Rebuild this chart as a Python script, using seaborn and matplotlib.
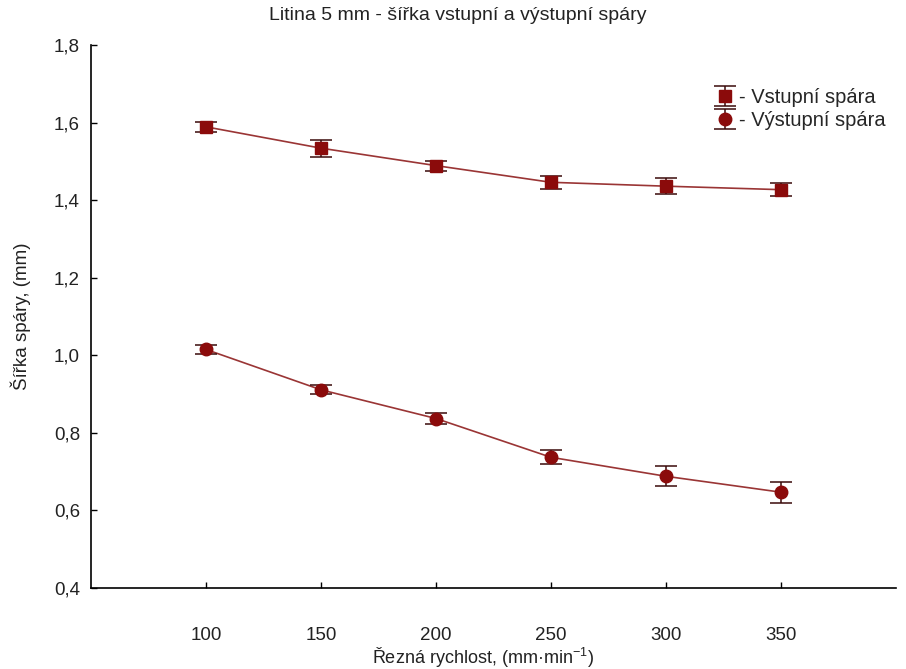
import matplotlib
matplotlib.use("Agg")
import matplotlib.pyplot as plt
import seaborn as sns
import pandas as pd

# Cutting speed (mm/min)
speed = [100, 150, 200, 250, 300, 350]
# Entry kerf width: mean and half-width of the error bar (mm)
vstup_mean = [1.589, 1.534, 1.489, 1.446, 1.436, 1.427]
vstup_err = [0.013, 0.022, 0.013, 0.017, 0.021, 0.017]
# Exit kerf width: mean and half-width of the error bar (mm)
vystup_mean = [1.015, 0.911, 0.837, 0.737, 0.688, 0.647]
vystup_err = [0.012, 0.012, 0.014, 0.018, 0.026, 0.027]

series_names = ["Vstupní spára", "Výstupní spára"]
y_ticks = [0.4, 0.6, 0.8, 1.0, 1.2, 1.4, 1.6, 1.8]
x_ticks = [100, 150, 200, 250, 300, 350]

df = pd.DataFrame({
    "speed": speed * 2,
    "width": vstup_mean + vystup_mean,
    "err": vstup_err + vystup_err,
    "series": [series_names[0]] * len(speed) + [series_names[1]] * len(speed),
})

sns.set_theme(style="white")
plt.rcParams["font.family"] = ["Liberation Sans", "DejaVu Sans"]
plt.rcParams["mathtext.fontset"] = "custom"
plt.rcParams["mathtext.rm"] = "Liberation Sans"
plt.rcParams["mathtext.it"] = "Liberation Sans"

fig = plt.figure(figsize=(9.06, 6.69), dpi=100)
ax = fig.add_axes([91 / 906, 81 / 669, 805 / 906, 543 / 669])

line_col = "#9a3535"
mark_col = "#8b0b0b"

sns.lineplot(data=df, x="speed", y="width", hue="series",
             palette=[line_col, line_col], ax=ax, legend=False,
             linewidth=1.2, estimator=None, errorbar=None)

handles = []
for name, marker in zip(series_names, ["s", "o"]):
    sub = df[df["series"] == name]
    h = ax.errorbar(sub["speed"], sub["width"], yerr=sub["err"], fmt=marker,
                    color=mark_col, ecolor="#3a0a0a", elinewidth=1.1,
                    capsize=8, capthick=1.1, markersize=9,
                    markeredgecolor=mark_col, label="- " + name, zorder=3)
    handles.append(h)

ax.set_xlim(50, 400)
ax.set_ylim(0.4, 1.8)
ax.set_xticks(x_ticks)
ax.set_yticks(y_ticks)
ax.set_yticklabels([f"{v:.1f}".replace(".", ",") for v in y_ticks])
ax.tick_params(direction="in", length=4, width=1, colors="black",
               labelsize=13.5, pad=8, left=True, bottom=True)
ax.tick_params(axis="x", pad=28)
for lab in ax.get_xticklabels() + ax.get_yticklabels():
    lab.set_color("#222222")

for side in ["top", "right"]:
    ax.spines[side].set_visible(False)
for side in ["left", "bottom"]:
    ax.spines[side].set_color("black")
    ax.spines[side].set_linewidth(1.2)

ax.set_xlabel(r"Řezná rychlost, (mm·min$^{-1}$)", fontsize=13, color="#222222")
ax.xaxis.set_label_coords((483 - 91) / 805, -0.106)
ax.set_ylabel("Šířka spáry, (mm)", fontsize=13.5, color="#222222")
ax.yaxis.set_label_coords(-0.074, 0.5)

fig.text(458 / 906, 1 - 15 / 669, "Litina 5 mm - šířka vstupní a výstupní spáry",
         ha="center", va="center", fontsize=14, color="#222222")

leg = ax.legend(handles=handles, labels=["- " + n for n in series_names],
                loc="upper right", bbox_to_anchor=(1.0, 0.94), frameon=False,
                fontsize=14.5, handlelength=0.8, handletextpad=0.3,
                labelspacing=0.2, borderaxespad=0.1)

fig.savefig("out.png", dpi=100, facecolor="white")
